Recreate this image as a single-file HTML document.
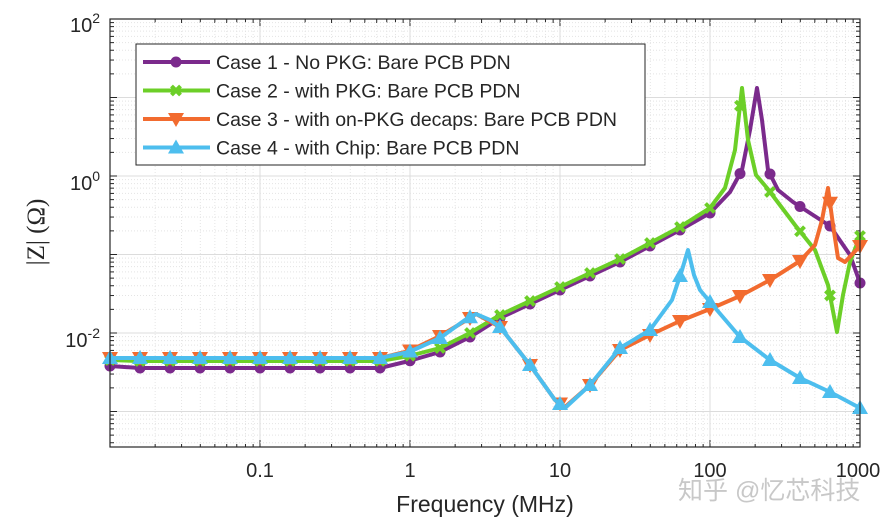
<!DOCTYPE html>
<html><head><meta charset="utf-8"><style>
html,body{margin:0;padding:0;background:#fff;}
svg{display:block;font-family:"Liberation Sans",Arial,sans-serif;}
</style></head><body>
<svg id="s" width="893" height="526" viewBox="0 0 893 526" xmlns="http://www.w3.org/2000/svg">
<rect x="0" y="0" width="893" height="526" fill="#fff"/>
<g id="grid"></g>
<g id="series"></g>
<rect x="110" y="19" width="750" height="428" fill="none" stroke="#262626" stroke-width="1.2"/>
<g font-size="20" fill="#262626">
<text x="100" y="32" text-anchor="end">10<tspan dy="-9" font-size="14">2</tspan></text>
<text x="100" y="190" text-anchor="end">10<tspan dy="-9" font-size="14">0</tspan></text>
<text x="100" y="347" text-anchor="end">10<tspan dy="-9" font-size="14">-2</tspan></text>
<text x="260" y="477" text-anchor="middle">0.1</text>
<text x="410" y="477" text-anchor="middle">1</text>
<text x="560" y="477" text-anchor="middle">10</text>
<text x="710" y="477" text-anchor="middle">100</text>
<text x="858" y="477" text-anchor="middle">1000</text>
</g>
<text x="485" y="512" text-anchor="middle" font-size="23" fill="#262626">Frequency (MHz)</text>
<text transform="translate(44,232) rotate(-90)" text-anchor="middle" font-size="25" fill="#262626" font-family="Liberation Serif,serif">|Z| (Ω)</text>
<text x="678" y="499" font-size="25" fill="#c8c8c8" font-family="Liberation Sans,'Noto Sans CJK SC',sans-serif">知乎 @忆芯科技</text>
<g id="legend">
<rect x="136" y="44" width="509" height="121" fill="#fff" stroke="#262626" stroke-width="1"/>
</g>
</svg>
<script>
const NS="http://www.w3.org/2000/svg";
function el(t,a,p){const e=document.createElementNS(NS,t);for(const k in a)e.setAttribute(k,a[k]);p.appendChild(e);return e;}
const g=document.getElementById('grid');
const X=f=>110+150*(Math.log10(f)+2), Y=z=>333-78.5*(Math.log10(z)+2);
for(let d=-2;d<3;d++)for(let m=1;m<10;m++){const x=X(m*Math.pow(10,d));if(x>860)break;
 el('line',{x1:x,x2:x,y1:19,y2:447,stroke:m==1?'#dcdcdc':'#e4e4e4','stroke-width':1,'stroke-dasharray':m==1?'':'1,2'},g);
 el('line',{x1:x,x2:x,y1:447,y2:m==1?440:444,stroke:'#262626'},g);el('line',{x1:x,x2:x,y1:19,y2:m==1?26:23,stroke:'#262626'},g);}
for(let d=-4;d<2;d++)for(let m=1;m<10;m++){const y=Y(m*Math.pow(10,d));if(y>447||y<19)continue;
 el('line',{x1:110,x2:860,y1:y,y2:y,stroke:m==1?'#dcdcdc':'#e4e4e4','stroke-width':1,'stroke-dasharray':m==1?'':'1,2'},g);
 el('line',{x1:110,x2:m==1?117:114,y1:y,y2:y,stroke:'#262626'},g);el('line',{x1:860,x2:m==1?853:856,y1:y,y2:y,stroke:'#262626'},g);}
const S=document.getElementById('series');
const data=[
{c:'#7b2a8c',m:'o',p:[[110,366],[140,368],[380,368],[409,361],[440,352],[470,337],[500,318],[560,290],[620,262],[680,230],[710,213],[730,192],[742,170],[750,130],[757,88],[762,120],[768,170],[778,190],[793,202],[830,226],[850,255],[860,283]]},
{c:'#6ccf28',m:'x',p:[[110,360],[140,361],[380,361],[409,356],[440,348],[470,333],[500,315],[560,287],[620,259],[680,227],[710,208],[725,188],[735,150],[742,88],[748,140],[756,175],[767,188],[795,225],[815,250],[828,285],[837,332],[843,295],[850,262],[860,236]]},
{c:'#f26b2f',m:'v',p:[[110,358],[380,358],[409,351],[440,336],[470,318],[476,314],[500,327],[530,365],[555,400],[565,407],[590,385],[620,350],[650,335],[680,321],[710,309],[740,296],[770,280],[800,261],[815,245],[822,220],[828,188],[833,225],[838,258],[845,262],[860,246]]},
{c:'#4dbeee',m:'^',p:[[110,358],[380,358],[409,352],[440,338],[465,320],[476,314],[490,320],[500,327],[530,365],[555,400],[565,408],[590,385],[620,348],[650,330],[672,300],[682,270],[688,250],[694,275],[700,290],[710,302],[740,337],[770,360],[800,378],[830,392],[860,408]]}
];
function yAt(p,x){for(let i=0;i<p.length-1;i++){if(x>=p[i][0]&&x<=p[i+1][0]){const t=(x-p[i][0])/((p[i+1][0]-p[i][0])||1);return p[i][1]+t*(p[i+1][1]-p[i][1]);}}return p[p.length-1][1];}
function marker(type,x,y,c,par){
 if(type=='o')el('circle',{cx:x,cy:y,r:5.5,fill:c},par);
 else if(type=='x'){el('path',{d:`M${x-4.5},${y-4.5}L${x+4.5},${y+4.5}M${x-4.5},${y+4.5}L${x+4.5},${y-4.5}`,stroke:c,'stroke-width':4},par);}
 else if(type=='v')el('path',{d:`M${x-8},${y-6}L${x+8},${y-6}L${x},${y+8}Z`,fill:c},par);
 else el('path',{d:`M${x-8},${y+6}L${x+8},${y+6}L${x},${y-8}Z`,fill:c},par);}
data.forEach(s=>{
 el('polyline',{points:s.p.map(q=>q.join(',')).join(' '),fill:'none',stroke:s.c,'stroke-width':4,'stroke-linejoin':'round'},S);
 for(let x=110;x<=861;x+=30)marker(s.m,x,yAt(s.p,x),s.c,S);
});
const L=document.getElementById('legend');
const labels=['Case 1 - No PKG: Bare PCB PDN','Case 2 - with PKG: Bare PCB PDN','Case 3 - with on-PKG decaps: Bare PCB PDN','Case 4 - with Chip: Bare PCB PDN'];
data.forEach((s,i)=>{const y=62+i*28.5;
 el('line',{x1:143,x2:210,y1:y,y2:y,stroke:s.c,'stroke-width':4},L);marker(s.m,176,y,s.c,L);
 const t=el('text',{x:216,y:y+7,'font-size':19.5,fill:'#262626'},L);t.textContent=labels[i];});
</script>
</body></html>
